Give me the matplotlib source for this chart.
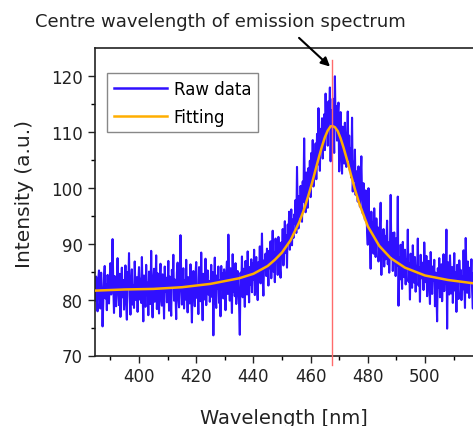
import numpy as np
import matplotlib
matplotlib.use("Agg")
import matplotlib.pyplot as plt
from matplotlib.ticker import MultipleLocator

# ---- data ----
wl_start = 384.5
wl_step = 0.25
raw_intensity = [
    82.4, 79.8, 84.1, 80.3, 77.9, 83.6, 85.2, 80.7, 78.4, 84.8, 81.1, 75.2, 79.6, 83.9, 86.0, 80.2, 82.7, 78.1, 84.4, 81.5,
    79.3, 83.8, 86.5, 80.9, 85.1, 90.8, 82.3, 77.6, 84.2, 80.1, 78.8, 83.3, 87.4, 81.9, 79.0, 84.6, 76.9, 82.8, 85.7, 80.4,
    83.5, 78.2, 81.6, 86.1, 79.7, 76.4, 84.9, 82.0, 88.3, 80.6, 77.3, 83.1, 85.4, 79.1, 82.6, 78.5, 86.8, 81.3, 79.9, 84.0,
    77.8, 82.9, 85.8, 80.0, 83.7, 79.4, 87.6, 81.2, 76.1, 84.3, 82.5, 78.7, 86.2, 80.8, 83.0, 77.2, 85.0, 81.7, 79.2, 88.7,
    80.5, 76.8, 83.4, 85.5, 79.6, 82.1, 87.9, 78.3, 84.7, 81.0, 77.5, 83.2, 86.4, 80.2, 78.9, 84.5, 82.4, 76.6, 85.9, 81.4,
    83.9, 79.5, 81.8, 86.9, 78.0, 84.1, 80.7, 77.1, 85.3, 82.2, 88.0, 79.8, 83.6, 81.3, 76.5, 84.8, 86.6, 80.4, 78.6, 83.1,
    91.5, 84.2, 79.1, 82.7, 85.6, 78.4, 83.4, 80.0, 87.1, 81.6, 77.7, 84.0, 82.9, 79.3, 86.3, 80.8, 75.9, 83.8, 85.1, 81.2,
    78.8, 84.4, 86.7, 80.3, 82.6, 77.4, 85.8, 83.0, 79.7, 88.4, 81.5, 76.3, 84.6, 82.1, 80.0, 87.3, 79.0, 83.7, 85.2, 80.9,
    83.3, 79.6, 81.9, 86.2, 80.5, 84.9, 73.6, 82.4, 87.5, 80.1, 78.5, 84.3, 82.0, 85.9, 79.4, 83.5, 77.0, 86.0, 81.8, 84.7,
    80.2, 85.4, 82.3, 78.1, 84.5, 86.8, 81.0, 91.6, 83.9, 79.8, 85.6, 82.5, 77.6, 88.1, 81.4, 84.2, 80.6, 86.5, 79.2, 83.7,
    85.1, 81.7, 79.0, 73.7, 84.8, 82.2, 87.7, 80.4, 85.5, 83.1, 78.7, 86.9, 82.8, 80.9, 88.6, 84.0, 79.5, 85.8, 82.6, 87.2,
    81.3, 86.4, 83.5, 88.9, 80.8, 85.2, 87.6, 82.4, 79.9, 86.7, 84.1, 89.5, 82.9, 85.8, 91.8, 83.6, 80.7, 87.0, 85.4, 88.2,
    84.2, 89.1, 86.3, 82.5, 88.7, 85.6, 90.4, 83.8, 87.9, 92.3, 85.0, 88.5, 83.1, 90.9, 86.8, 89.6, 84.4, 91.2, 87.3, 85.9,
    83.9, 90.2, 87.5, 92.6, 86.1, 89.8, 94.0, 88.3, 91.5, 85.7, 93.4, 90.0, 95.7, 88.9, 92.8, 96.1, 89.7, 94.3, 91.0, 95.2,
    93.6, 97.8, 91.9, 103.7, 95.4, 92.7, 98.5, 94.8, 100.3, 96.2, 93.9, 101.1, 97.5, 108.8, 99.2, 95.6, 102.7, 98.9, 96.4, 103.5,
    100.6, 104.8, 98.3, 106.2, 102.0, 108.5, 100.2, 105.7, 103.4, 107.9, 101.5, 109.6, 104.1, 114.2, 106.8, 103.0, 110.5, 107.3, 112.4, 105.2,
    109.4, 113.1, 106.7, 116.8, 110.2, 112.9, 107.5, 115.4, 111.6, 117.9, 104.7, 113.8, 109.1, 115.9, 112.3, 106.2, 119.9, 111.0, 114.6, 108.4,
    112.8, 115.2, 102.9, 109.7, 113.5, 106.1, 102.5, 110.9, 107.8, 104.3, 111.6, 106.9, 103.7, 108.2, 113.6, 105.0, 109.3, 103.1, 107.0, 101.8,
    112.5, 99.3, 104.6, 101.2, 106.8, 98.7, 102.9, 100.4, 97.5, 103.8, 99.9, 96.6, 101.7, 105.6, 98.2, 95.4, 100.8, 97.1, 94.3, 99.5,
    96.0, 92.4, 89.8, 99.9, 94.1, 91.3, 85.5, 95.7, 90.6, 93.8, 88.2, 96.3, 91.7, 87.6, 94.5, 90.1, 92.9, 86.8, 89.4, 93.2,
    97.3, 84.4, 90.8, 88.0, 92.6, 85.9, 91.4, 87.2, 89.9, 94.1, 86.3, 90.2, 84.8, 88.7, 98.7, 87.8, 91.9, 85.1, 89.3, 92.0,
    88.6, 84.2, 91.0, 86.1, 98.4, 78.9, 87.5, 83.6, 89.8, 85.4, 81.9, 90.3, 86.7, 84.0, 88.9, 82.7, 87.1, 85.8, 92.5, 83.2,
    86.4, 80.0, 88.2, 84.6, 82.1, 89.7, 85.3, 83.0, 87.6, 81.4, 86.0, 84.9, 90.9, 82.5, 85.7, 79.6, 88.0, 83.8, 86.6, 84.1,
    81.7, 90.2, 85.5, 83.1, 87.8, 80.6, 84.7, 86.9, 82.3, 79.2, 88.5, 84.0, 81.0, 85.9, 83.4, 87.1, 78.8, 84.8, 82.0, 76.1,
    85.6, 82.2, 87.4, 80.4, 84.5, 86.3, 79.7, 83.9, 88.1, 81.5, 85.0, 82.8, 92.5, 74.8, 86.7, 83.3, 80.9, 87.9, 84.2, 81.1,
    85.8, 79.4, 83.7, 88.3, 81.6, 84.9, 77.8, 86.2, 82.4, 80.1, 87.0, 83.5, 85.3, 79.9, 84.1, 81.8, 88.8, 82.6, 78.5, 91.0,
    84.4, 81.2, 86.8, 82.9, 80.3, 85.7, 83.4, 87.2, 81.5, 78.4, 84.8, 82.3, 86.0, 80.7, 83.6, 85.1, 81.9, 84.5, 82.8, 80.8,
]
raw_wavelength = wl_start + wl_step * np.arange(len(raw_intensity))

fit_wavelength = [385, 395, 405, 415, 425, 435, 440, 445, 447.5, 450, 453, 456, 457.5, 459, 460.5,
                  462, 463, 464, 465, 466, 467, 467.7, 468.5, 469.5, 470.5, 471.5, 473, 474,
                  475.5, 477, 480, 484, 488, 493, 500, 508, 517, 520]
fit_intensity = [81.6, 81.8, 81.9, 82.2, 82.8, 83.8, 84.6, 86.0, 87.1, 88.4, 90.6, 93.8, 95.8, 98.2, 100.8,
                 103.7, 105.6, 107.4, 109.0, 110.2, 110.95, 111.0, 110.8, 110.1, 108.8, 107.2, 104.5, 102.5,
                 99.7, 97.2, 93.1, 89.6, 87.4, 85.7, 84.3, 83.5, 82.9, 82.8]

centre_wl = 467.6
x_ticks = [400, 420, 440, 460, 480, 500]
y_ticks = [70, 80, 90, 100, 110, 120]

# ---- figure ----
plt.rcParams['font.family'] = ['DejaVu Sans']
fig = plt.figure(figsize=(4.73, 4.27), dpi=100)
ax = fig.add_axes([94.7 / 473, 70.5 / 427, 1 - 94.7 / 473, (356.5 - 49.3) / 427])

ax.plot(raw_wavelength, raw_intensity, color='#3010ff', lw=1.5, label='Raw data', zorder=2)
ax.plot(fit_wavelength, fit_intensity, color='#ffae00', lw=1.8, label='Fitting', zorder=3)
ax.plot([centre_wl, centre_wl], [68.3, 122.8], color='#ff6b6b', lw=1.0, clip_on=False, zorder=4)

ax.set_xlim(384.5, 516.8)
ax.set_ylim(70, 124.9)
ax.set_xticks(x_ticks)
ax.set_yticks(y_ticks)
ax.xaxis.set_minor_locator(MultipleLocator(10))
ax.yaxis.set_minor_locator(MultipleLocator(5))
ax.tick_params(axis='both', which='major', direction='out', length=5, width=1, labelsize=12, colors='#222222')
ax.tick_params(axis='both', which='minor', direction='out', length=3, width=1)
ax.spines['right'].set_visible(False)
for s in ['left', 'bottom', 'top']:
    ax.spines[s].set_linewidth(1.2)
    ax.spines[s].set_color('#222222')

ax.set_xlabel('Wavelength [nm]', fontsize=14, color='#222222', labelpad=16)
ax.set_ylabel('Intensity (a.u.)', fontsize=14.5, color='#222222')
ax.yaxis.set_label_coords(-0.16, 0.529)

leg = ax.legend(loc='upper left', bbox_to_anchor=(0.0325, 0.9196), borderaxespad=0,
                fontsize=12, handlelength=3.2, handletextpad=0.4, labelspacing=0.6,
                fancybox=False, framealpha=1, edgecolor='#888888', borderpad=0.4)
leg.get_frame().set_linewidth(1.0)
for h in leg.get_lines():
    h.set_linewidth(1.8)

ax.annotate('', xy=(centre_wl - 0.1, 121.3), xycoords='data',
            xytext=(297 / 473, 1 - 37 / 427), textcoords='figure fraction',
            arrowprops=dict(arrowstyle='-|>', color='black', lw=1.5, mutation_scale=13),
            annotation_clip=False)
fig.text(220.5 / 473, 1 - 21.7 / 427, 'Centre wavelength of emission spectrum',
         ha='center', va='center', fontsize=13, color='#222222')

fig.savefig('out.png', dpi=100)
